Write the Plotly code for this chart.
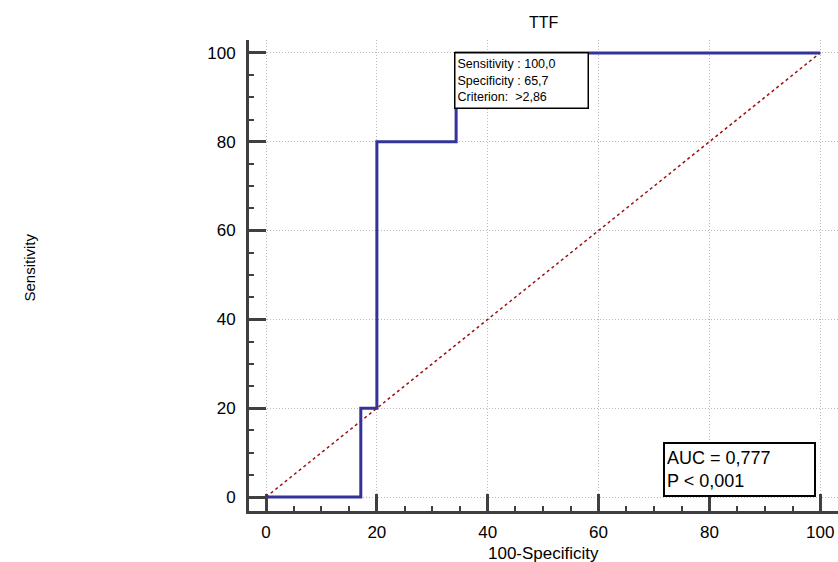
import plotly.graph_objects as go

# ROC step curve (100-Specificity, Sensitivity)
roc_x = [0, 17.1, 17.1, 20, 20, 34.3, 34.3, 100]
roc_y = [0, 0, 20, 20, 80, 80, 100, 100]
diag_x = [0, 100]
diag_y = [0, 100]
tick_vals = [0, 20, 40, 60, 80, 100]
title_text = "TTF"
criterion_lines = ["Sensitivity : 100,0", "Specificity : 65,7", "Criterion:  >2,86"]
auc_lines = ["AUC = 0,777", "P < 0,001"]

FONT = "Liberation Sans, Arial"
axis_col = "#404040"
W, H = 838, 562
ML, MR, MT, MB = 249, 0, 40, 51
PW, PH = W - ML - MR, H - MT - MB

fig = go.Figure()
fig.add_trace(go.Scatter(x=diag_x, y=diag_y, mode="lines",
                         line=dict(color="#a01010", width=1.5, dash="dot"),
                         hoverinfo="skip", showlegend=False))
fig.add_trace(go.Scatter(x=roc_x, y=roc_y, mode="lines",
                         line=dict(color="#333399", width=3),
                         showlegend=False))

common = dict(
    showline=True, linecolor=axis_col, linewidth=3,
    ticks="inside", ticklen=17, tickwidth=3, tickcolor=axis_col,
    tickvals=tick_vals, showgrid=True, gridcolor="#b8b8b8", gridwidth=1,
    griddash="1px,2px", zeroline=False, automargin=False,
    tickfont=dict(family=FONT, size=17, color="black"),
    minor=dict(dtick=5, ticks="inside", ticklen=5, tickwidth=1.5,
               tickcolor=axis_col, showgrid=False),
)
fig.update_xaxes(range=[-3.07, 103.2], ticklabelstandoff=4, **common)
fig.update_yaxes(range=[-3.15, 102.9], ticklabelstandoff=7, **common)

fig.add_annotation(x=33.9, y=100.3, xref="x", yref="y", xanchor="left",
                   yanchor="top", text="<br>".join(criterion_lines),
                   showarrow=False, align="left", width=128, height=50,
                   font=dict(family=FONT, size=12.5, color="black"),
                   bgcolor="white", bordercolor="black", borderwidth=1.5,
                   borderpad=2)
fig.add_annotation(x=99.3, y=0, xref="x", yref="y", xanchor="right",
                   yanchor="bottom", text="<br>".join(auc_lines),
                   showarrow=False, align="left", width=145, height=47,
                   font=dict(family=FONT, size=18, color="black"),
                   bgcolor="white", bordercolor="black", borderwidth=2,
                   borderpad=2)
fig.add_annotation(x=0.5, y=1, xref="paper", yref="paper", yanchor="bottom",
                   yshift=7, text=title_text, showarrow=False,
                   font=dict(family=FONT, size=16, color="black"))
fig.add_annotation(x=0.5, y=0, xref="paper", yref="paper", yanchor="top",
                   yshift=-31, text="100-Specificity", showarrow=False,
                   font=dict(family=FONT, size=17, color="black"))
fig.add_annotation(x=(18 - ML) / PW, y=(H - MB - 268) / PH,
                   xref="paper", yref="paper", text="Sensitivity",
                   showarrow=False, textangle=-90,
                   font=dict(family=FONT, size=15, color="black"))

fig.update_layout(width=W, height=H,
                  margin=dict(l=ML, r=MR, t=MT, b=MB),
                  paper_bgcolor="white", plot_bgcolor="white")
fig.write_html("out.html", config={"displayModeBar": False},
               post_script="document.body.style.margin='0';document.body.style.overflow='hidden';")
